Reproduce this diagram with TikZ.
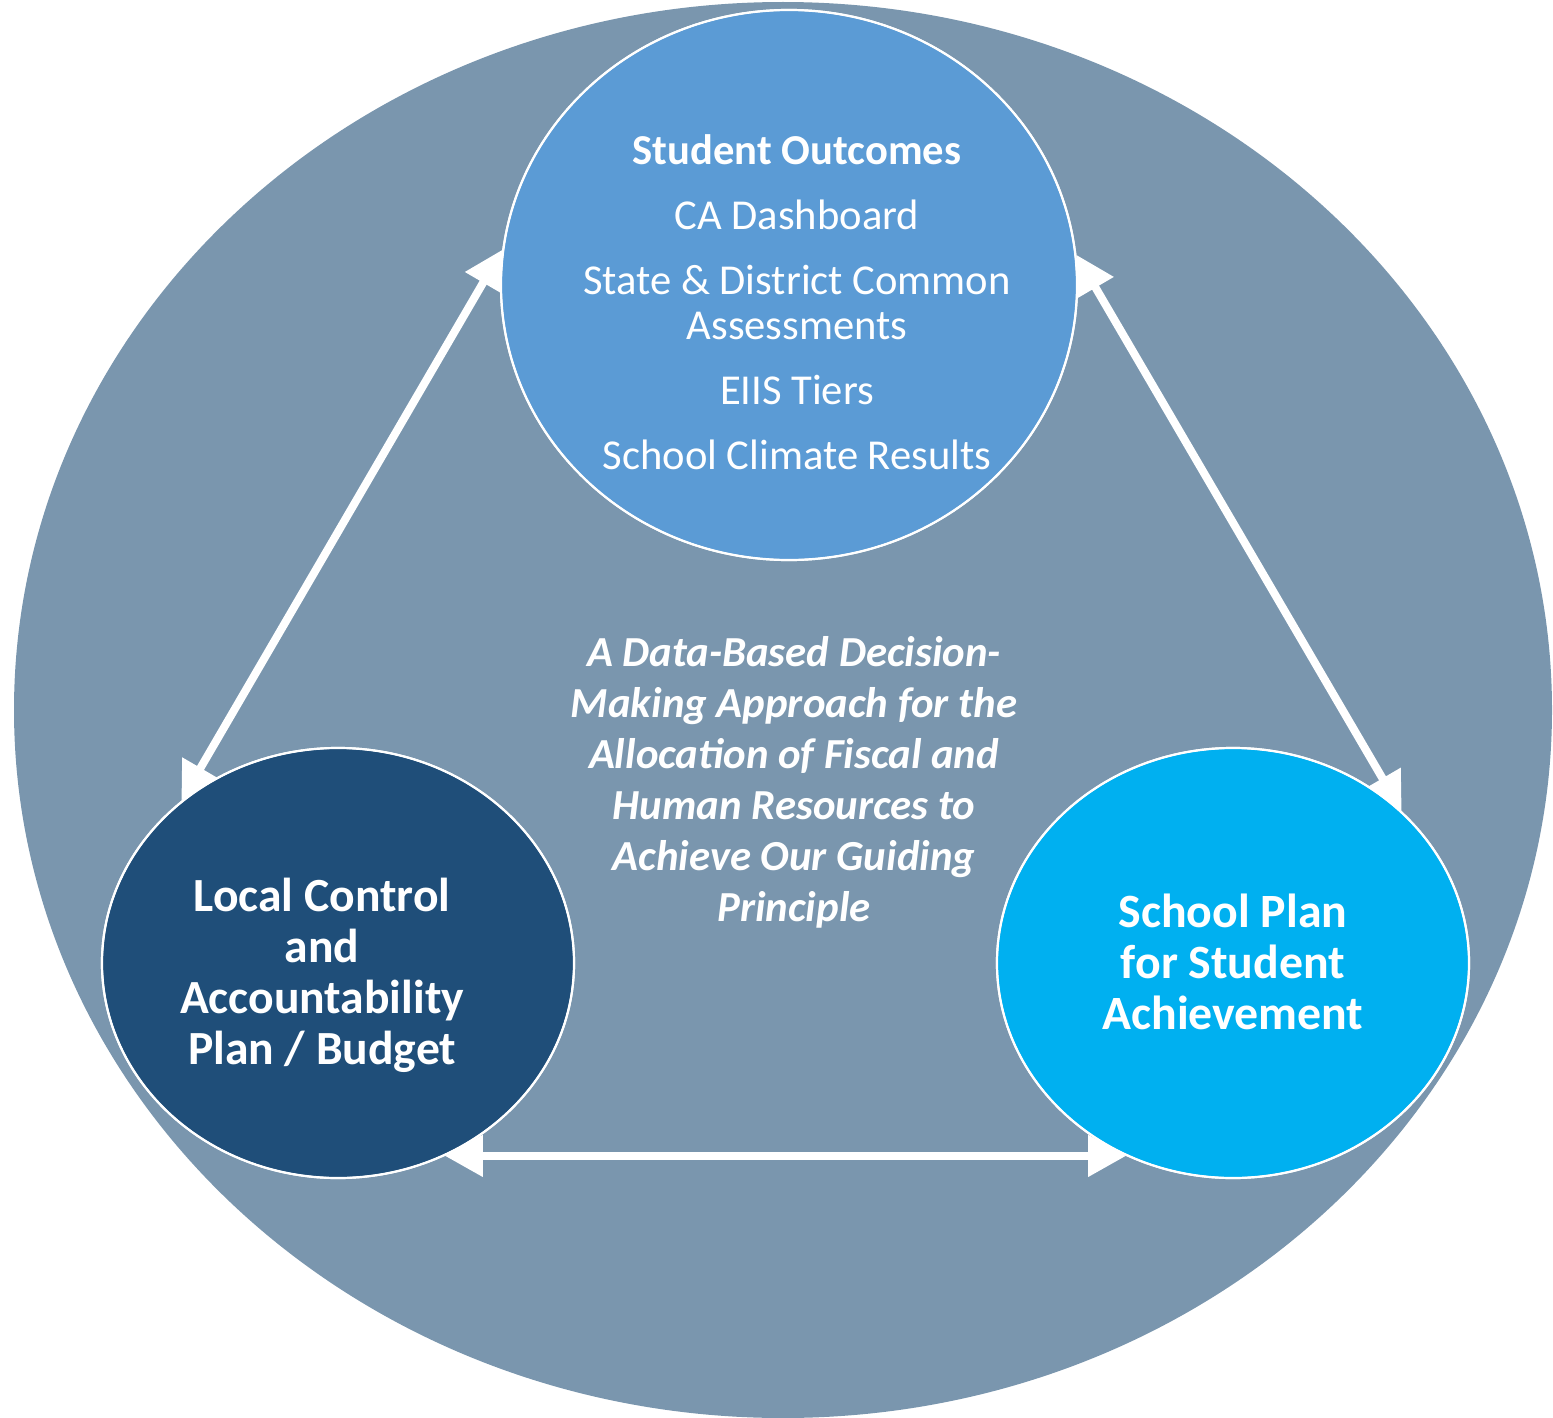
\documentclass[tikz,border=0pt]{standalone}
\usepackage{fontspec}
\setmainfont{Carlito}
\usetikzlibrary{shapes.geometric,arrows.meta}
\definecolor{bgblue}{RGB}{122,150,174}
\definecolor{topblue}{RGB}{91,155,213}
\definecolor{darkblue}{RGB}{31,78,121}
\definecolor{brightblue}{RGB}{0,176,240}
\tikzset{
  bubble/.style={ellipse, draw=white, line width=1.1pt, inner sep=0pt},
  link/.style={white, line width=4pt, {Triangle[length=19pt,width=20pt]}-{Triangle[length=19pt,width=20pt]}},
  wtext/.style={text=white, align=center, inner sep=0pt}
}
\begin{document}
\begin{tikzpicture}[x=0.5pt,y=-0.5pt]
\useasboundingbox (0,0) rectangle (1553,1418);
\clip (0,0) rectangle (1553,1418);
\node[ellipse, fill=bgblue, minimum width=1538pt/2, minimum height=1416pt/2, inner sep=0pt] (bg) at (783,710) {};
\node[bubble, minimum width=288pt, minimum height=275pt] (top) at (789,285) {};
\node[bubble, minimum width=236pt, minimum height=215pt] (lcap) at (338,963) {};
\node[bubble, minimum width=236pt, minimum height=215pt] (spsa) at (1233,963) {};
\draw[link] (lcap.134.6) -- (top.173.4);
\draw[link] (spsa.42.9) -- (top.6.5);
\draw[link] (lcap.-61.7) -- (spsa.-119.2);
\fill[topblue] (top.center) ellipse[x radius=287, y radius=274];
\fill[darkblue] (lcap.center) ellipse[x radius=235, y radius=214];
\fill[brightblue] (spsa.center) ellipse[x radius=235, y radius=214];
\draw[white, line width=1.1pt] (top.center) ellipse[x radius=288, y radius=275];
\draw[white, line width=1.1pt] (lcap.center) ellipse[x radius=236, y radius=215];
\draw[white, line width=1.1pt] (spsa.center) ellipse[x radius=236, y radius=215];
\node[wtext, font=\fontsize{21.3}{22.5}\selectfont] (toptext) at (797,302) {\textbf{Student Outcomes}\\[10pt]CA Dashboard\\[10pt]State \& District Common\\Assessments\\[10pt]EIIS Tiers\\[10pt]School Climate Results};
\node[wtext, font=\fontsize{21.4}{25.5}\selectfont\bfseries\itshape] (mid) at (794,782) {A Data-Based Decision-\\Making Approach for the\\Allocation of Fiscal and\\Human Resources to\\Achieve Our Guiding\\Principle};
\node[wtext, font=\fontsize{23.8}{25.5}\selectfont\bfseries] (ltext) at (322,975) {Local Control\\and\\Accountability\\Plan / Budget};
\node[wtext, font=\fontsize{23.9}{25.5}\selectfont\bfseries] (rtext) at (1233,962) {School Plan\\for Student\\Achievement};
\end{tikzpicture}
\end{document}
